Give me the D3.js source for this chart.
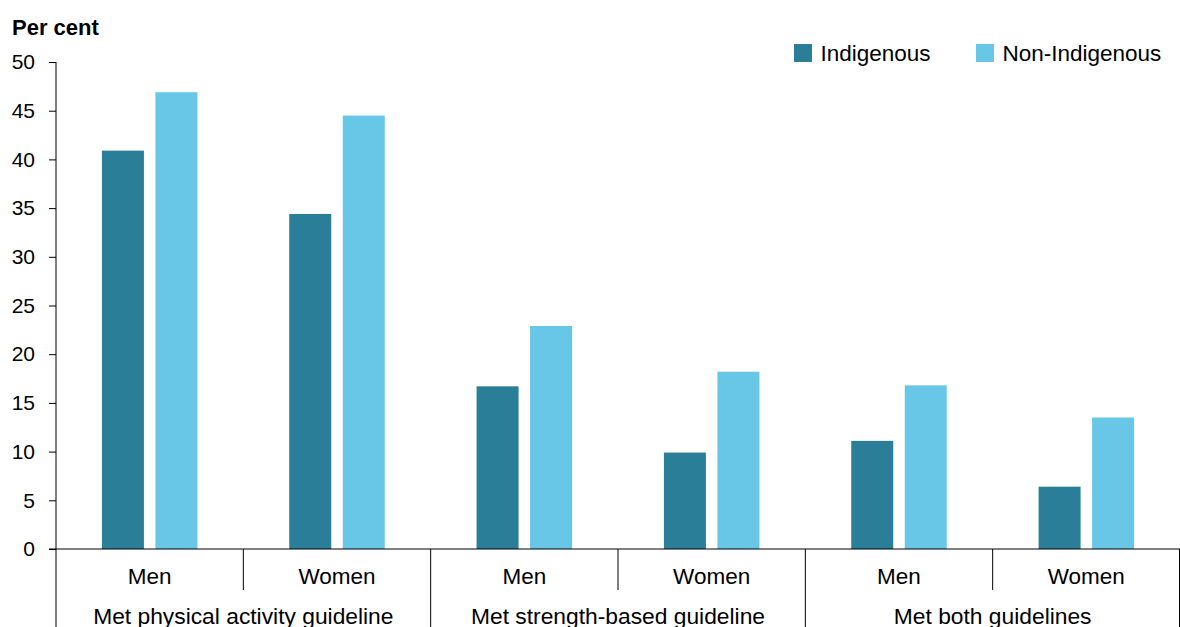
<!DOCTYPE html>
<html>
<head>
<meta charset="utf-8">
<script src="https://cdn.jsdelivr.net/npm/d3@7"></script>
<style>
  body { margin: 0; background: #fff; }
  svg { display: block; font-family: "Liberation Sans", Arial, sans-serif; }
</style>
</head>
<body>
<div id="chart"></div>
<script>
const groups = ["Met physical activity guideline", "Met strength-based guideline", "Met both guidelines"];
const sexes = ["Men", "Women"];
const seriesNames = ["Indigenous", "Non-Indigenous"];
const indigenous = [40.9, 34.4, 16.7, 9.9, 11.1, 6.4];
const nonIndigenous = [46.9, 44.5, 22.9, 18.2, 16.8, 13.5];
const yTicks = [0, 5, 10, 15, 20, 25, 30, 35, 40, 45, 50];

const COLORS = ["#2a7e97", "#68c7e7"];

const W = 1180, H = 627;
const margin = { top: 62, right: 0, bottom: 78, left: 56 };
const width = W - margin.left - margin.right;
const height = H - margin.top - margin.bottom;

const cats = [];
groups.forEach(g => sexes.forEach(s => cats.push(g + "|" + s)));
const rows = cats.map((c, i) => ({ key: c, values: [indigenous[i], nonIndigenous[i]] }));

const svg = d3.select("#chart").append("svg")
  .attr("width", W).attr("height", H)
  .append("g")
  .attr("transform", `translate(${margin.left},${margin.top})`);

const x = d3.scaleBand().domain(cats).range([0, width]);
const barW = 42, gap = 11.5;
const x1 = d3.scaleOrdinal().domain(seriesNames)
  .range([x.bandwidth() / 2 - gap / 2 - barW, x.bandwidth() / 2 + gap / 2]);
const y = d3.scaleLinear().domain([0, 50]).range([height, 0]);

// bars
const cat = svg.selectAll(".cat").data(rows).enter().append("g")
  .attr("transform", d => `translate(${x(d.key)},0)`);
cat.selectAll("rect").data(d => d.values.map((v, i) => ({ name: seriesNames[i], v })))
  .enter().append("rect")
  .attr("x", d => x1(d.name))
  .attr("width", barW)
  .attr("y", d => y(d.v))
  .attr("height", d => y(0) - y(d.v))
  .attr("fill", (d, i) => COLORS[i]);

// y axis
const yAxis = svg.append("g")
  .call(d3.axisLeft(y).tickValues(yTicks).tickSize(7).tickPadding(14));
yAxis.select(".domain").attr("stroke", "#000").attr("d", `M0,${height}V0`);
yAxis.selectAll(".tick line").attr("stroke", "#000");
yAxis.selectAll(".tick text").attr("font-size", 21).attr("fill", "#000");

// x baseline
svg.append("line")
  .attr("x1", -7).attr("x2", width).attr("y1", height).attr("y2", height)
  .attr("stroke", "#000");

// separators
cats.forEach((c, i) => {
  const major = i % 2 === 0;
  svg.append("line")
    .attr("x1", x(c)).attr("x2", x(c))
    .attr("y1", height).attr("y2", major ? H - margin.top : height + 41)
    .attr("stroke", "#000");
});
svg.append("line")
  .attr("x1", width - 0.5).attr("x2", width - 0.5)
  .attr("y1", height).attr("y2", H - margin.top)
  .attr("stroke", "#000");

// sex labels
svg.selectAll(".sexlab").data(cats).enter().append("text")
  .attr("x", d => x(d) + x.bandwidth() / 2)
  .attr("y", height + 35)
  .attr("text-anchor", "middle")
  .attr("font-size", 22.5)
  .text(d => d.split("|")[1]);

// group labels
svg.selectAll(".grplab").data(groups).enter().append("text")
  .attr("x", (d, i) => x(cats[i * 2]) + x.bandwidth())
  .attr("y", height + 75)
  .attr("text-anchor", "middle")
  .attr("font-size", 22.8)
  .text(d => d);

// y title
svg.append("text")
  .attr("x", -44).attr("y", -27)
  .attr("font-size", 22).attr("font-weight", "bold")
  .text("Per cent");

// legend
const legendX = [738, 920];
const legend = svg.selectAll(".legend").data(seriesNames).enter().append("g")
  .attr("transform", (d, i) => `translate(${legendX[i]},-18)`);
legend.append("rect").attr("width", 18).attr("height", 18)
  .attr("fill", (d, i) => COLORS[i]);
legend.append("text").attr("x", 26.5).attr("y", 17)
  .attr("font-size", 22.5).text(d => d);
</script>
</body>
</html>
